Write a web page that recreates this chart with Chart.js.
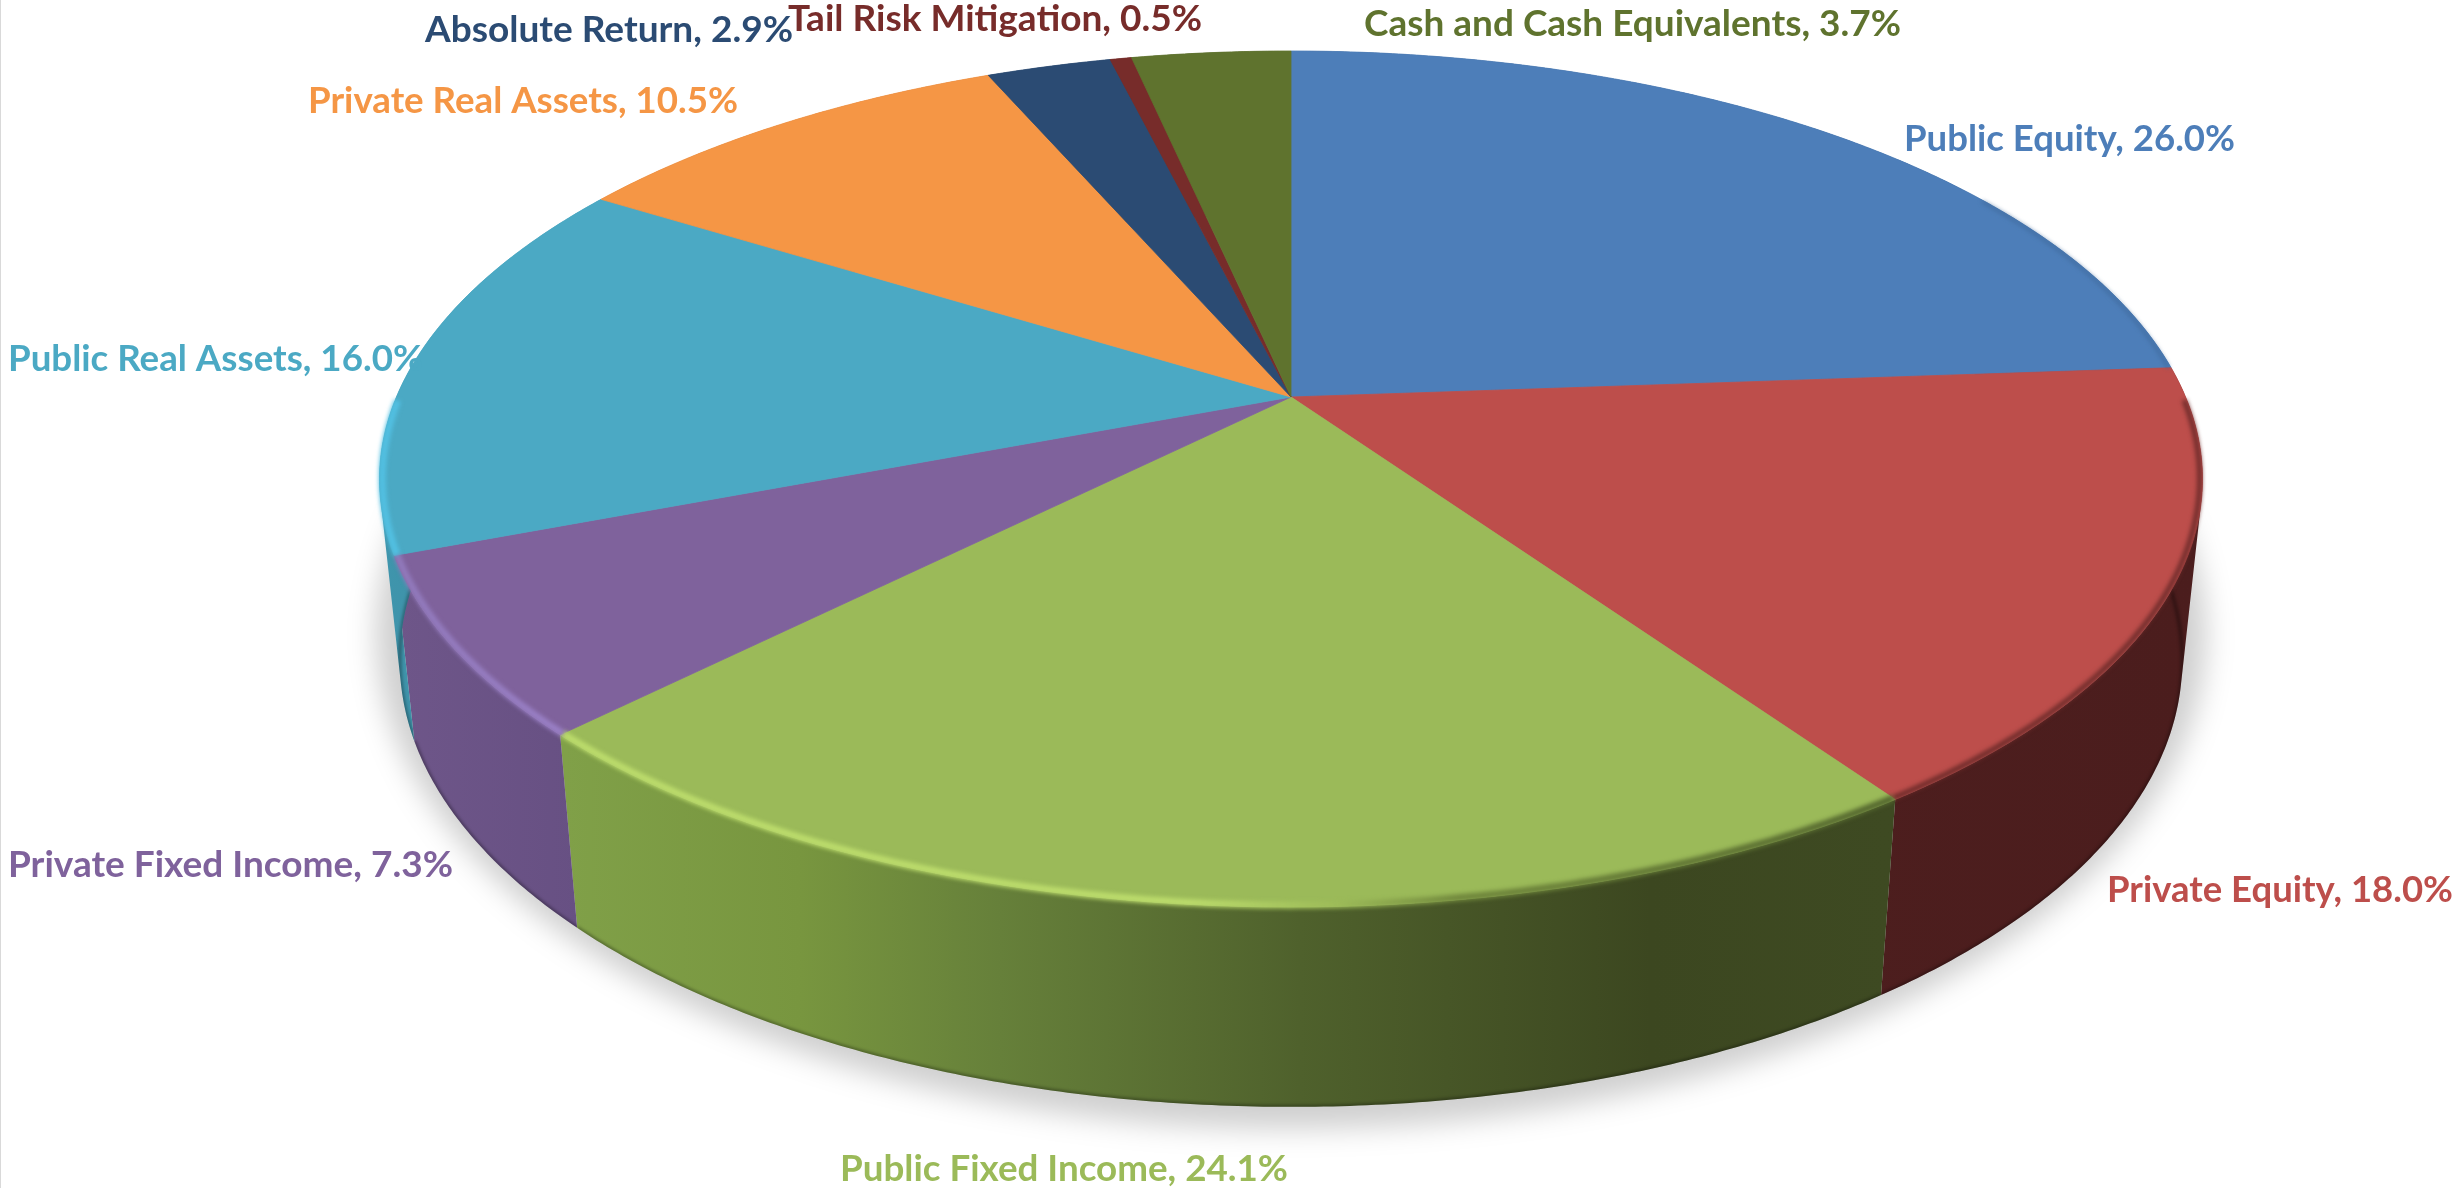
<!DOCTYPE html>
<html>
<head>
<meta charset="utf-8">
<style>html,body{margin:0;padding:0;background:#fff;overflow:hidden}canvas{display:block}</style>
<script src="https://cdn.jsdelivr.net/npm/chart.js@4/dist/chart.umd.min.js"></script>
</head>
<body>
<canvas id="c" width="2459" height="1188"></canvas>
<script>
const categories = ['Public Equity','Private Equity','Public Fixed Income','Private Fixed Income','Public Real Assets','Private Real Assets','Absolute Return','Tail Risk Mitigation','Cash and Cash Equivalents'];
const values = [26.0,18.0,24.1,7.3,16.0,10.5,2.9,0.5,3.7];
const topColors = ['#4d7eb9','#bd4e4b','#9bba59','#7f629c','#4ba9c4','#f59645','#2b4b73','#772c2a','#5f732e'];

// label boxes: left, right, baseline
const labelLeft  = [1904,2107,840,8,8,308,425,788,1364];
const labelRight = [2235,2453,1288,453,423,738,793,1202,1901];
const labelBase  = [151,902,1181,877,371,113,42,31,36];
const labelOrder = [0,1,2,3,4,5,6,7,8];

// side-wall shading: [x, colour] stops per slice
const wallStops = [
  [[0,'#2f4d72'],[1,'#2f4d72']],
  [[1800,'#4d1e1e'],[2200,'#4b1d1d']],
  [[565,'#80a048'],[800,'#78963f'],[1000,'#66803a'],[1300,'#4f612c'],[1650,'#3c4720'],[1890,'#3e4a22']],
  [[395,'#6e5689'],[580,'#675083']],
  [[380,'#3f95ad'],[420,'#3f93a9']],
  [[0,'#a06030'],[1,'#a06030']],
  [[0,'#1f3550'],[1,'#1f3550']],
  [[0,'#501e1d'],[1,'#501e1d']],
  [[0,'#404e20'],[1,'#404e20']]
];
const rimStops = [
  [[0,'#3c6595'],[1,'#3c6595']],
  [[1850,'#6a2928'],[2200,'#6f2c2b']],
  [[565,'#bcdc6c'],[1190,'#bcdc6c'],[1340,'#9cba58'],[1460,'#70873c'],[1890,'#55682f']],
  [[395,'#9179bb'],[565,'#9a80c6']],
  [[380,'#52c0e2'],[420,'#52c0e2']],
  null,null,null,null
];

// projection of the two circular faces onto the page
const topFace = {cx:1291, cy:397, A:894.6, B:412.3, k:0.1916};
const botFace = {cx:1291, cy:576, A:875,   B:430,   k:0.19};
function proj(f, th, r){
  r = r === undefined ? 1 : r;
  const u = r*Math.sin(th), v = -r*Math.cos(th), d = 1 - f.k*v;
  return [f.cx + f.A*u/d, f.cy + f.B*v/d];
}
function arcPts(f, a, b, r){
  const n = Math.max(2, Math.ceil((b-a)/0.008)), p = [];
  for(let i=0;i<=n;i++) p.push(proj(f, a+(b-a)*i/n, r));
  return p;
}
function grad(ctx, stops){
  const x0 = stops[0][0], x1 = stops[stops.length-1][0];
  const g = ctx.createLinearGradient(x0,0,x1,0);
  stops.forEach(s => g.addColorStop((s[0]-x0)/(x1-x0), s[1]));
  return g;
}
function trace(ctx, pts, move){
  pts.forEach((p,i)=>{ if(i===0 && move) ctx.moveTo(p[0],p[1]); else ctx.lineTo(p[0],p[1]); });
}
// the wall as a union of narrow quads, all wound the same way
function wallPath(ctx, t, b){
  ctx.beginPath();
  for(let i=0;i<t.length-1;i++){
    let q = [t[i],t[i+1],b[i+1],b[i]], area = 0;
    for(let j=0;j<4;j++){ const p=q[j], n=q[(j+1)%4]; area += p[0]*n[1]-n[0]*p[1]; }
    if(area < 0) q = q.reverse();
    trace(ctx,q,true); ctx.closePath();
  }
}

const pie3d = {
  id:'pie3d',
  beforeDraw(chart){
    const ctx = chart.ctx;
    ctx.fillStyle = '#fff'; ctx.fillRect(0,0,chart.width,chart.height);
    ctx.fillStyle = '#d9d9d9'; ctx.fillRect(0,0,1,chart.height);
  },
  beforeDatasetDraw(chart, args){
    const ctx = chart.ctx, arcs = args.meta.data;
    const slices = arcs.map((a,i)=>({i, s:a.startAngle+Math.PI/2, e:a.endAngle+Math.PI/2, color:topColors[i]}));

    // ground shadow
    ctx.save();
    ctx.filter = 'blur(14px)';
    ctx.fillStyle = 'rgba(0,0,0,0.19)';
    ctx.beginPath();
    ctx.ellipse(1291, 634, 915, 495, 0, 0, Math.PI*2);
    ctx.fill();
    ctx.restore();

    // side walls
    slices.forEach(sl=>{
      const t = arcPts(topFace, sl.s, sl.e), b = arcPts(botFace, sl.s, sl.e);
      const fill = grad(ctx, wallStops[sl.i]);
      ctx.save();
      wallPath(ctx,t,b);
      ctx.fillStyle = fill;
      ctx.fill();
      ctx.clip();
      ctx.beginPath(); trace(ctx,b,true);
      ctx.filter = 'blur(1.5px)';
      ctx.strokeStyle = 'rgba(0,0,0,0.3)'; ctx.lineWidth = 4; ctx.stroke();
      ctx.restore();
    });

    // top faces
    slices.forEach(sl=>{
      const t = arcPts(topFace, sl.s, sl.e);
      ctx.beginPath(); ctx.moveTo(topFace.cx, topFace.cy); trace(ctx,t,false); ctx.closePath();
      ctx.fillStyle = sl.color; ctx.strokeStyle = sl.color; ctx.lineWidth = 0.8;
      ctx.fill(); ctx.stroke();
    });

    // bevel along the front rim
    slices.forEach(sl=>{
      if(!rimStops[sl.i]) return;
      const t = arcPts(topFace, sl.s, sl.e, 0.997).filter(p => p[1] > (sl.i===0 ? 200 : 400));
      if(t.length < 2) return;
      ctx.save();
      ctx.filter = 'blur(2px)';
      ctx.beginPath(); trace(ctx,t,true);
      ctx.strokeStyle = grad(ctx, rimStops[sl.i]);
      ctx.lineWidth = sl.i===0 ? 2 : (sl.i===1 ? 5 : 7); ctx.lineCap = 'butt';
      ctx.stroke();
      ctx.restore();
    });
    return false;
  },
  afterDatasetsDraw(chart){
    const ctx = chart.ctx;
    labelOrder.forEach(i=>{
      const text = categories[i] + ', ' + values[i].toFixed(1) + '%';
      ctx.save();
      ctx.font = 'bold 37px Lato';
      ctx.fillStyle = topColors[i];
      ctx.textAlign = 'left'; ctx.textBaseline = 'alphabetic';
      const w = ctx.measureText(text).width;
      ctx.translate(labelLeft[i], labelBase[i]);
      ctx.scale((labelRight[i]-labelLeft[i])/w, 1);
      ctx.fillText(text, 0, 0);
      ctx.restore();
    });
  }
};

new Chart(document.getElementById('c').getContext('2d'), {
  type:'pie',
  data:{labels:categories, datasets:[{data:values, backgroundColor:topColors, borderWidth:0}]},
  options:{
    responsive:false, animation:false, devicePixelRatio:1,
    layout:{padding:0},
    plugins:{legend:{display:false}, tooltip:{enabled:false}, title:{display:false}}
  },
  plugins:[pie3d]
});
</script>
</body>
</html>
